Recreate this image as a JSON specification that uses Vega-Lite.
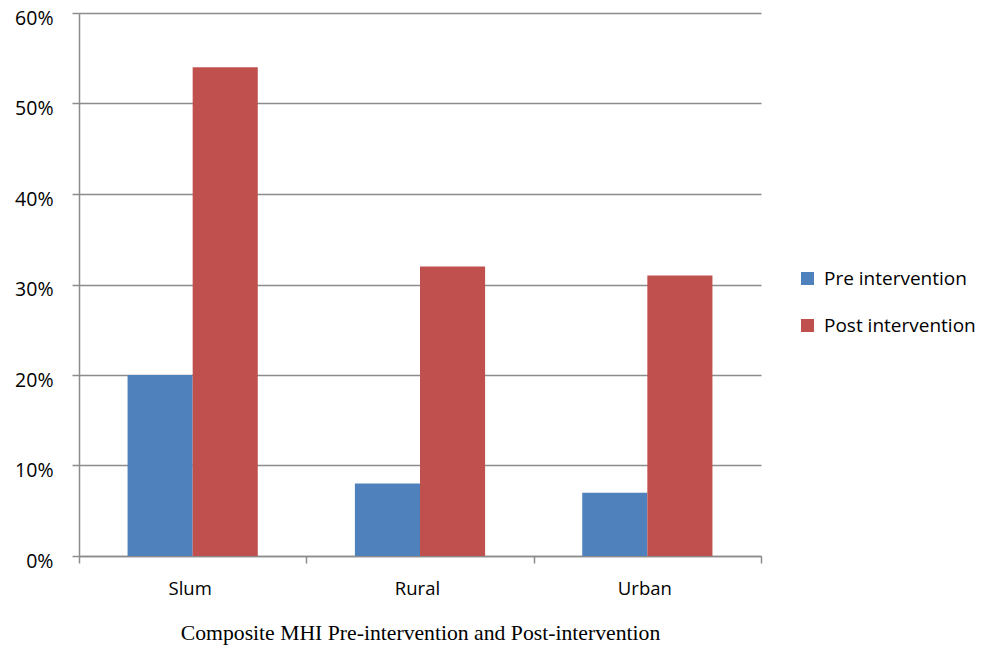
{
  "$schema": "https://vega.github.io/schema/vega-lite/v6.json",
  "width": 682,
  "height": 543,
  "autosize": {"type": "none"},
  "padding": {"left": 79, "top": 13, "right": 228, "bottom": 90},
  "background": "white",
  "data": {
    "values": [
      {"area": "Slum", "phase": "Pre intervention", "value": 0.20},
      {"area": "Slum", "phase": "Post intervention", "value": 0.54},
      {"area": "Rural", "phase": "Pre intervention", "value": 0.08},
      {"area": "Rural", "phase": "Post intervention", "value": 0.32},
      {"area": "Urban", "phase": "Pre intervention", "value": 0.07},
      {"area": "Urban", "phase": "Post intervention", "value": 0.31}
    ]
  },
  "mark": {"type": "bar"},
  "encoding": {
    "x": {
      "field": "area",
      "type": "nominal",
      "sort": ["Slum", "Rural", "Urban"],
      "scale": {"paddingInner": 0, "paddingOuter": 0},
      "axis": {
        "title": "Composite MHI Pre-intervention and Post-intervention",
        "titleFont": "Liberation Serif",
        "titleFontSize": 21.7,
        "titleFontWeight": "normal",
        "titleColor": "black",
        "titlePadding": 25,
        "labelAngle": 0,
        "labelFont": "Open Sans",
        "labelFontSize": 18.5,
        "labelColor": "black",
        "labelPadding": 16,
        "labelOffset": -3,
        "tickBand": "extent",
        "tickSize": 7,
        "tickColor": "#8c8c8c",
        "tickWidth": 1.5,
        "domainColor": "#8c8c8c",
        "domainWidth": 1.5,
        "grid": false
      }
    },
    "xOffset": {
      "field": "phase",
      "type": "nominal",
      "sort": ["Pre intervention", "Post intervention"],
      "scale": {"paddingInner": 0, "paddingOuter": 0.746}
    },
    "y": {
      "field": "value",
      "type": "quantitative",
      "scale": {"domain": [0, 0.6], "nice": false},
      "axis": {
        "title": null,
        "format": ".0%",
        "values": [0, 0.1, 0.2, 0.3, 0.4, 0.5, 0.6],
        "labelFont": "Open Sans",
        "labelFontSize": 19.5,
        "labelColor": "black",
        "labelPadding": 19,
        "labelBaseline": "middle",
        "labelOffset": 5,
        "tickSize": 7,
        "tickColor": "#8c8c8c",
        "tickWidth": 1.5,
        "domainColor": "#8c8c8c",
        "domainWidth": 1.5,
        "grid": true,
        "gridColor": "#8c8c8c",
        "gridWidth": 1.5
      }
    },
    "color": {
      "field": "phase",
      "type": "nominal",
      "sort": ["Pre intervention", "Post intervention"],
      "scale": {"domain": ["Pre intervention", "Post intervention"], "range": ["#4F81BD", "#C0504D"]},
      "legend": {
        "title": null,
        "orient": "none",
        "legendX": 719,
        "legendY": 256,
        "symbolType": "square",
        "symbolSize": 170,
        "symbolStrokeWidth": 0,
        "labelFont": "Open Sans",
        "labelFontSize": 19,
        "labelColor": "black",
        "labelOffset": 7,
        "rowPadding": 27
      }
    }
  },
  "config": {
    "view": {"stroke": null}
  }
}
